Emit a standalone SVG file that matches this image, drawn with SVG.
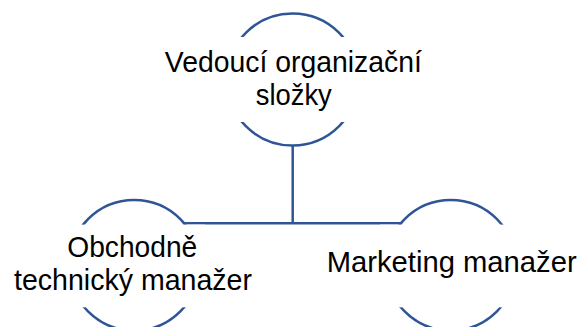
<svg xmlns="http://www.w3.org/2000/svg" width="582" height="327" viewBox="0 0 582 327">
<style>
.c{fill:#fff;stroke:#2F5597;stroke-width:2.5}
.b{fill:#fff;stroke:none}
.t{font-family:"Liberation Sans",Arial,sans-serif;font-size:30px;fill:#000;text-anchor:middle}
.l{fill:none;stroke:#2F5597;stroke-width:2.5}
</style>
<rect width="582" height="327" fill="#fff"/>
<g id="connectors">
<path class="l" d="M292.7,140 V223.3 M180,223.3 H405"/>
</g>
<g id="node-top">
<circle class="c" cx="292.5" cy="79.5" r="66"/>
<rect class="b" x="222" y="37" width="141" height="85"/>
<text class="t" x="293.3" y="71.7" textLength="257" lengthAdjust="spacingAndGlyphs">Vedoucí organizační</text>
<text class="t" x="293.8" y="105" textLength="76" lengthAdjust="spacingAndGlyphs">složky</text>
</g>
<g id="node-left">
<circle class="c" cx="134.2" cy="265.3" r="65.3"/>
<rect class="b" x="64" y="224.6" width="141" height="82.7"/>
<text class="t" x="132.3" y="256.7" textLength="130" lengthAdjust="spacingAndGlyphs">Obchodně</text>
<text class="t" x="133" y="290" textLength="238" lengthAdjust="spacingAndGlyphs">technický manažer</text>
</g>
<g id="node-right">
<circle class="c" cx="450.8" cy="265.3" r="65.3"/>
<rect class="b" x="380" y="224.6" width="141" height="82.7"/>
<text class="t" x="451.7" y="271.7" textLength="250" lengthAdjust="spacingAndGlyphs">Marketing manažer</text>
</g>
</svg>
